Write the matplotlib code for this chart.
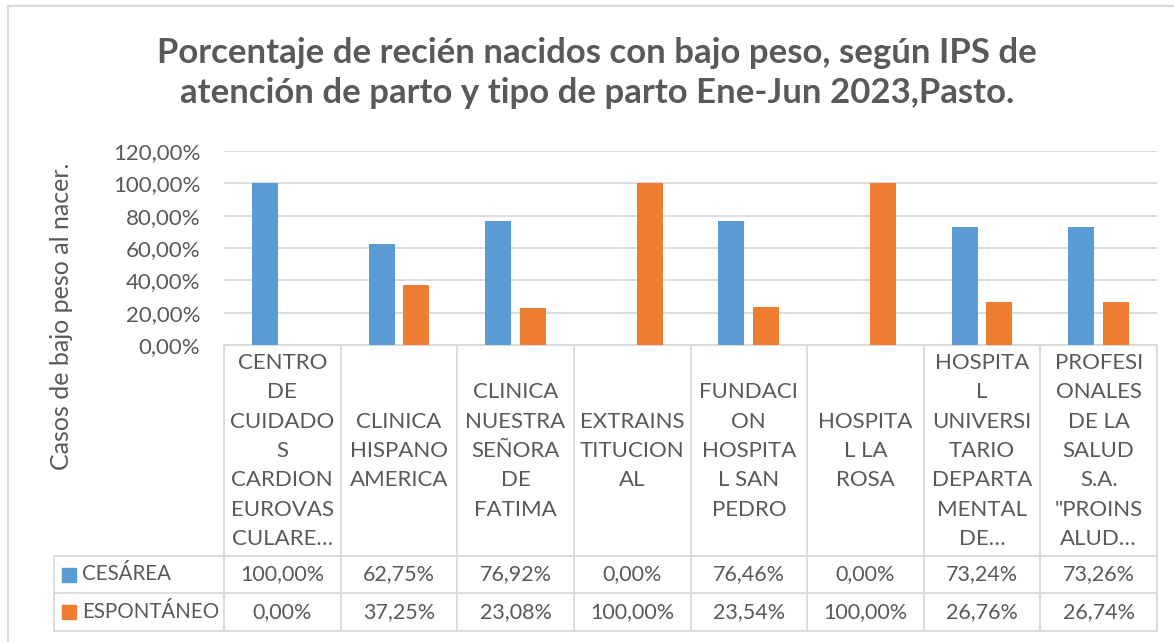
import matplotlib.pyplot as plt
import matplotlib.transforms as mtransforms
from matplotlib.patches import Rectangle
import numpy as np

plt.rcParams['font.family'] = ['Lato', 'DejaVu Sans']

categories = [
    "CENTRO\nDE\nCUIDADO\nS\nCARDION\nEUROVAS\nCULARE…",
    "CLINICA\nHISPANO\nAMERICA",
    "CLINICA\nNUESTRA\nSEÑORA\nDE\nFATIMA",
    "EXTRAINS\nTITUCION\nAL",
    "FUNDACI\nON\nHOSPITA\nL SAN\nPEDRO",
    "HOSPITA\nL LA\nROSA",
    "HOSPITA\nL\nUNIVERSI\nTARIO\nDEPARTA\nMENTAL\nDE…",
    "PROFESI\nONALES\nDE LA\nSALUD\nS.A.\n\"PROINS\nALUD…",
]
series_names = ["CESÁREA", "ESPONTÁNEO"]
cesarea = [100.00, 62.75, 76.92, 0.00, 76.46, 0.00, 73.24, 73.26]
espontaneo = [0.00, 37.25, 23.08, 100.00, 23.54, 100.00, 26.76, 26.74]
y_ticks = [0, 20, 40, 60, 80, 100, 120]

title = "Porcentaje de recién nacidos con bajo peso, según IPS de\natención de parto y tipo de parto Ene-Jun 2023,Pasto."
y_label = "Casos de bajo peso al nacer."

blue = "#5B9BD5"
orange = "#ED7D31"
grey_text = "#595959"
grid = "#D9D9D9"

W, H = 1174, 642
fig = plt.figure(figsize=(W / 100, H / 100), dpi=100)


def fy(py):
    # pixel from top -> figure fraction
    return 1 - py / H


def fx(px):
    return px / W


def pct(v):
    return f"{v:.2f}".replace(".", ",") + "%"


# outer chart border
fig.patches.append(Rectangle((fx(8), fy(700)), 2, fy(6) - fy(700), transform=fig.transFigure,
                             fill=False, edgecolor=grid, lw=1.5))

ax = fig.add_axes([fx(224), fy(345), fx(1157) - fx(224), fy(151) - fy(345)])
x = np.arange(len(categories))
bw = 0.223
off = 0.149
ax.bar(x - off, cesarea, bw, color=blue, zorder=3)
ax.bar(x + off, espontaneo, bw, color=orange, zorder=3)

ax.set_xlim(-0.5, len(categories) - 0.5)
ax.set_ylim(0, 120)
ax.set_yticks(y_ticks)
ax.set_yticklabels([pct(v) for v in y_ticks])
ax.tick_params(axis='y', length=0, labelsize=16, labelcolor=grey_text, pad=17)
ax.set_xticks([])
ax.grid(axis='y', color=grid, lw=1.3, zorder=0)
for s in ax.spines.values():
    s.set_visible(False)

fig.text(fx(597), fy(73), title, ha='center', va='center', fontsize=25, fontweight='bold',
         color=grey_text, linespacing=1.3)
fig.text(fx(62), fy(316), y_label, ha='center', va='center', rotation=90, fontsize=18,
         color=grey_text)

# data table below the axis
tr = mtransforms.blended_transform_factory(ax.transData, fig.transFigure)
lw = 1.3
rows = [345, 556, 593, 631]
x_left = ax.transData.inverted().transform((fx(54) * W, 0))[0]
xr = len(categories) - 0.5

for b in np.arange(-0.5, len(categories), 1.0):
    ax.plot([b, b], [fy(345), fy(631)], transform=tr, color=grid, lw=lw, clip_on=False)
ax.plot([x_left, x_left], [fy(556), fy(631)], transform=tr, color=grid, lw=lw, clip_on=False)
ax.plot([-0.5, xr], [fy(345), fy(345)], transform=tr, color=grid, lw=lw, clip_on=False)
for r in rows[1:]:
    ax.plot([x_left, xr], [fy(r), fy(r)], transform=tr, color=grid, lw=lw, clip_on=False)

for i, c in enumerate(categories):
    ax.text(i, fy(451), c, transform=tr, ha='center', va='center', fontsize=16,
            color=grey_text, linespacing=1.58)

for j, (name, vals, col) in enumerate(zip(series_names, [cesarea, espontaneo], [blue, orange])):
    yc = (rows[j + 1] + rows[j + 2]) / 2
    fig.patches.append(Rectangle((fx(62), fy(yc + 7)), fx(14), fy(yc - 7) - fy(yc + 7),
                                 transform=fig.transFigure, color=col))
    fig.text(fx(82), fy(yc), name, ha='left', va='center', fontsize=14.8, color=grey_text)
    for i, v in enumerate(vals):
        ax.text(i, fy(yc), pct(v), transform=tr, ha='center',
                va='center', fontsize=15.5, color=grey_text)

fig.savefig("out.png", dpi=100)
